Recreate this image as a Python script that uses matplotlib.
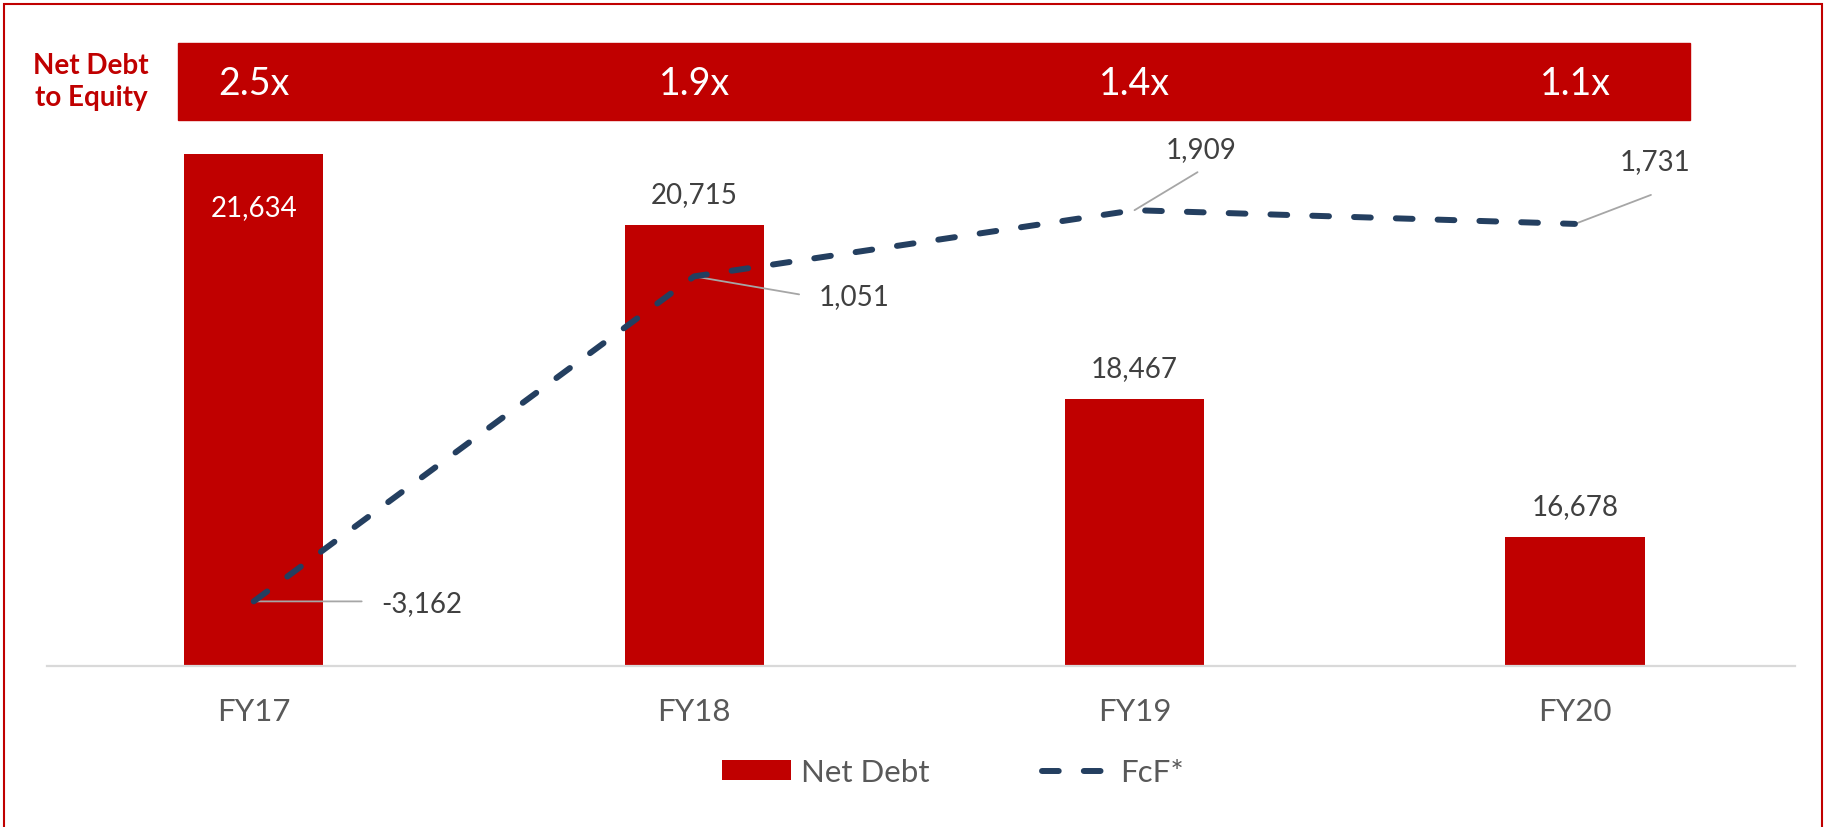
import matplotlib
matplotlib.use('Agg')
import matplotlib.pyplot as plt
import matplotlib.transforms as mtransforms
from matplotlib.patches import Rectangle, Patch
from matplotlib.lines import Line2D

# chart data
years = ['FY17', 'FY18', 'FY19', 'FY20']
net_debt = [21634, 20715, 18467, 16678]
fcf = [-3162, 1051, 1909, 1731]
debt_to_equity = ['2.5x', '1.9x', '1.4x', '1.1x']

RED = '#C00000'
NAVY = '#243F60'
GREY_TXT = '#404040'
AXIS_TXT = '#595959'

plt.rcParams['font.family'] = ['Lato', 'DejaVu Sans']

fig = plt.figure(figsize=(18.29, 8.28), dpi=100)
ax = fig.add_axes([0.0183, 0.1944, 0.9632, 0.6522])
x = list(range(len(years)))

# bars (primary axis)
ax.bar(x, net_debt, width=0.316, color=RED, zorder=2)
ax.set_ylim(15000, 22000)
ax.set_xlim(-0.5, 3.5)
ax.plot([-0.47, 3.5], [15000, 15000], color='#D9D9D9', lw=1.6, zorder=3, clip_on=False)
for s in ax.spines.values():
    s.set_visible(False)
ax.set_xticks([])
ax.set_yticks([])

# bar labels
for i, v in enumerate(net_debt):
    if i == 0:
        ax.annotate(f'{v:,}', xy=(i, v), xytext=(0, -53), textcoords='offset pixels',
                    ha='center', va='center', fontsize=20, color='white')
    else:
        ax.annotate(f'{v:,}', xy=(i, v), xytext=(0, 31), textcoords='offset pixels',
                    ha='center', va='center', fontsize=20, color=GREY_TXT)

# category labels
for i, yr in enumerate(years):
    ax.annotate(yr, xy=(i, 0), xycoords=('data', 'axes fraction'), xytext=(0, -45),
                textcoords='offset pixels', ha='center', va='center',
                fontsize=22.5, color=AXIS_TXT, annotation_clip=False)

# FcF line (secondary axis)
ax2 = ax.twinx()
ax2.set_ylim(-4000, 3000)
ax2.plot(x, fcf, color=NAVY, lw=4.3, dashes=(2.8, 4.2), dash_capstyle='round',
         dash_joinstyle='round', zorder=4)
for s in ax2.spines.values():
    s.set_visible(False)
ax2.set_yticks([])

# line labels with leader lines: (leader end offset, text offset, ha)
label_pos = [((108, 0), (128, -2), 'left'),
             ((105, -18), (160, -20), 'center'),
             ((63, 38), (67, 61), 'center'),
             ((76, 29), (80, 63), 'center')]
for i, v in enumerate(fcf):
    lead, txt, ha = label_pos[i]
    ax2.annotate('', xy=(i, v), xytext=lead, textcoords='offset pixels',
                 arrowprops=dict(arrowstyle='-', color='#A6A6A6', lw=1.3,
                                 shrinkA=0, shrinkB=0))
    ax2.annotate(f'{v:,}', xy=(i, v), xytext=txt, textcoords='offset pixels',
                 ha=ha, va='center', fontsize=20, color=GREY_TXT)

# header band with net debt to equity ratios
fig.add_artist(Rectangle((178 / 1829, 0.8539), (1690 - 178) / 1829, 0.093,
                         transform=fig.transFigure, color=RED, zorder=1))
trans = mtransforms.blended_transform_factory(ax.transData, fig.transFigure)
for i, r in enumerate(debt_to_equity):
    fig.text(i, 0.8986, r, transform=trans, ha='center', va='center',
             fontsize=27, color='white', zorder=3)
fig.text(91 / 1829, 1 - 82 / 828, 'Net Debt\nto Equity', ha='center', va='center',
         color=RED, fontweight='bold', fontsize=20, linespacing=1.3)

# outer border
fig.add_artist(Rectangle((4 / 1829, -0.05), (1822 - 4) / 1829, 1.044,
                         transform=fig.transFigure, fill=False, edgecolor=RED, lw=1.5))

# legend
handles = [Patch(facecolor=RED),
           Line2D([], [], color=NAVY, lw=4.3, dashes=(2.8, 4.2), dash_capstyle='round')]
fig.legend(handles, ['Net Debt', 'FcF*'], loc='center', bbox_to_anchor=(0.521, 0.0664),
           ncol=2, frameon=False, fontsize=22.5, handlelength=2.2, handleheight=0.6,
           handletextpad=0.3, columnspacing=3.6, labelcolor=AXIS_TXT)

fig.savefig('out.png', dpi=100)
